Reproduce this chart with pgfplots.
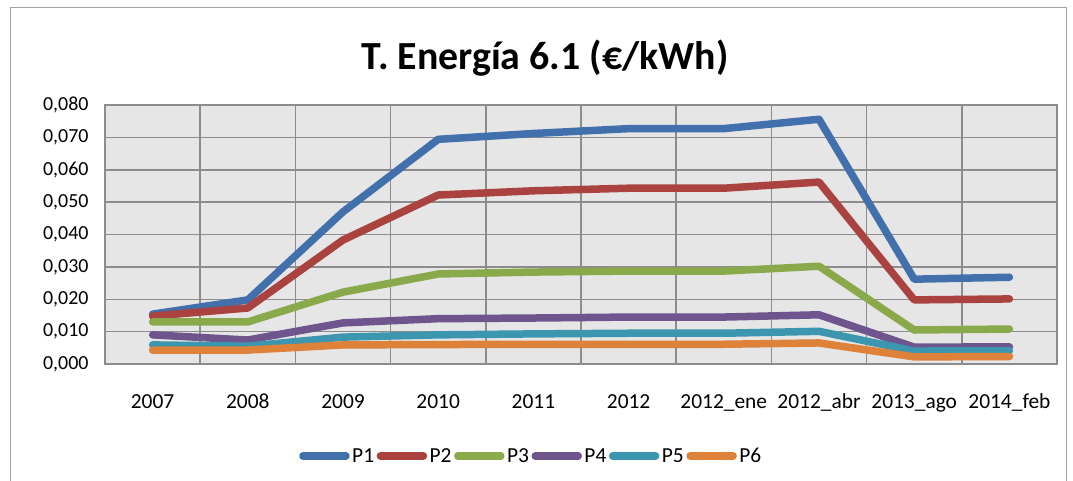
\documentclass[border=0pt]{standalone}
\usepackage{fontspec}
\setmainfont{Carlito}
\usepackage{pgfplots}
\pgfplotsset{compat=1.18}
\definecolor{c1}{HTML}{4170AC}
\definecolor{c2}{HTML}{AA4240}
\definecolor{c3}{HTML}{89A94B}
\definecolor{c4}{HTML}{6F558E}
\definecolor{c5}{HTML}{3D96B0}
\definecolor{c6}{HTML}{DE8139}
\definecolor{gridc}{HTML}{8C8C8C}
\definecolor{bgc}{HTML}{E6E6E6}
\begin{document}
\begin{tikzpicture}
\useasboundingbox (0bp,0bp) rectangle (1073bp,481bp);
\draw[color=gridc!80, line width=1bp] (10bp,-10bp) rectangle (1066bp,473bp);
\node[font=\fontsize{40}{46}\selectfont\bfseries] at (545bp,423bp) {T. Energía 6.1 (€/kWh)};
\begin{axis}[
  at={(105bp,117bp)}, anchor=south west,
  scale only axis, width=952bp, height=259bp,
  xmin=-0.5, xmax=9.5, ymin=0, ymax=0.08,
  ytick={0,0.01,0.02,0.03,0.04,0.05,0.06,0.07,0.08},
  scaled y ticks=false,
  xtick={0,...,9},
  xticklabels={2007,2008,2009,2010,2011,2012,2012\_ene,2012\_abr,2013\_ago,2014\_feb},
  minor xtick={-0.5,0.5,...,9.5},
  xmajorgrids=false, xminorgrids=true, ymajorgrids=true,
  grid style={draw=gridc, line width=1.5bp},
  minor grid style={draw=gridc, line width=1.5bp},
  major tick length=0pt, minor tick length=0pt,
  axis line style={draw=gridc, line width=1.5bp},
  axis background/.style={fill=bgc},
  yticklabel style={font=\fontsize{20}{23}\selectfont, xshift=-13bp},
  xticklabel style={font=\fontsize{21.5}{25}\selectfont, yshift=-44bp, anchor=base, text height=14bp},
  /pgf/number format/.cd, use comma, fixed, fixed zerofill, precision=3, assume math mode=true,
  /pgfplots/.cd,
  legend columns=6,
  legend style={at={(0.448,-0.355)}, anchor=center, draw=none, fill=none,
    font=\fontsize{21.5}{25}\selectfont, column sep=0bp,
    /tikz/every node/.append style={inner xsep=2.5bp}},
  legend image code/.code={\draw[#1, line cap=round] (0bp,0bp) -- (43bp,0bp);},
  every axis plot/.append style={line width=7.5bp, line cap=round, line join=round, mark=none},
]
\addplot[c1] coordinates {(0,0.0154) (1,0.0198) (2,0.0470) (3,0.0694) (4,0.0712) (5,0.0727) (6,0.0727) (7,0.0756) (8,0.0262) (9,0.0268)};
\addplot[c2] coordinates {(0,0.0148) (1,0.0173) (2,0.0383) (3,0.0522) (4,0.0535) (5,0.0543) (6,0.0543) (7,0.0562) (8,0.0198) (9,0.0201)};
\addplot[c3] coordinates {(0,0.0130) (1,0.0130) (2,0.0222) (3,0.0278) (4,0.0284) (5,0.0287) (6,0.0287) (7,0.0302) (8,0.0105) (9,0.0108)};
\addplot[c4] coordinates {(0,0.0090) (1,0.0074) (2,0.0127) (3,0.0140) (4,0.0142) (5,0.0145) (6,0.0145) (7,0.0152) (8,0.0052) (9,0.0053)};
\addplot[c5] coordinates {(0,0.0059) (1,0.0055) (2,0.0083) (3,0.0090) (4,0.0093) (5,0.0095) (6,0.0095) (7,0.0101) (8,0.0040) (9,0.0041)};
\addplot[c6] coordinates {(0,0.0043) (1,0.0043) (2,0.0059) (3,0.0060) (4,0.0061) (5,0.0061) (6,0.0061) (7,0.0065) (8,0.0022) (9,0.0023)};
\legend{P1\hspace{4bp},P2\hspace{4bp},P3\hspace{4bp},P4\hspace{4bp},P5\hspace{4bp},P6}
\end{axis}
\end{tikzpicture}
\end{document}
